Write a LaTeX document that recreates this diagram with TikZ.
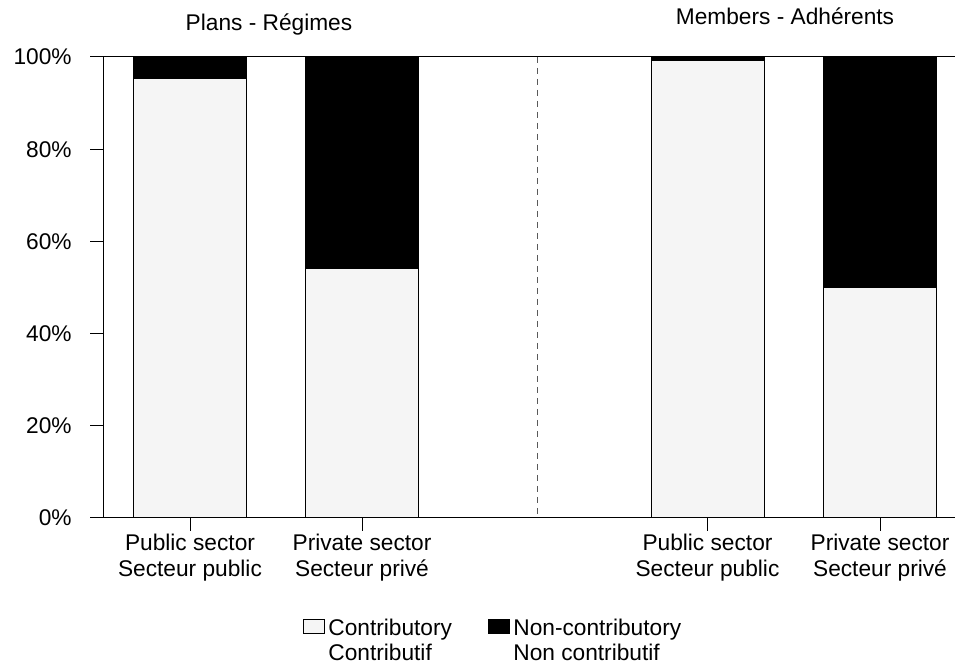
\documentclass[tikz,border=0pt]{standalone}
\usepackage{fontspec}
\setmainfont{Liberation Sans}
\usepackage{xcolor}
\usepackage{tikz}
\usetikzlibrary{positioning,calc}

\definecolor{barlight}{RGB}{245,245,245}
\tikzset{
  lbl/.style={font=\fontsize{11.35}{13}\selectfont, inner sep=0pt},
  keylbl/.style={font=\fontsize{11.35}{12.2}\selectfont, inner sep=0pt},
  axisline/.style={black, line width=0.5pt},
  contrib/.style={fill=barlight, draw=black, line width=0.5pt},
  noncontrib/.style={fill=black, draw=black, line width=0.5pt},
  keybox/.style={draw=black, line width=0.5pt, minimum width=10.5pt, minimum height=7pt, inner sep=0pt}
}

\begin{document}
\begin{tikzpicture}[x=0.5pt,y=-0.5pt]
  \useasboundingbox (0,0) rectangle (955,663);

  % Titles
  \node[lbl, anchor=base] (titleplans) at (269,31) {Plans - Régimes};
  \node[lbl, anchor=base] (titlemembers) at (785,25) {Members - Adhérents};

  % Frame and y axis
  \draw[axisline] (90,57) -- (955,57);
  \draw[axisline] (90,518) -- (955,518);
  \draw[axisline] (103,57) -- (103,518);
  \foreach \p in {0,20,...,100} {
    \draw[axisline] (90,{518-4.61*\p}) -- (103,{518-4.61*\p});
    \node[lbl, anchor=east] (ytick\p) at (72,{518-4.61*\p}) {\p\%};
  }

  % Bars (white share of 100%)
  \foreach \cx/\v/\n in {190/95.4/a, 362/54.2/b, 707.5/99.3/c, 880/49.9/d} {
    \draw[noncontrib] (\cx-56.5,57) rectangle (\cx+56.5,518);
    \draw[contrib] (\cx-56.5,518) rectangle (\cx+56.5,{518-4.61*\v});
    \draw[axisline] (\cx,518) -- (\cx,531);
  }

  % Separator
  \draw[black!65, line width=0.5pt, dash pattern=on 3pt off 2.5pt] (537.7,57) -- (537.7,518);

  % Category labels
  \node[lbl, align=center, anchor=north] (pubplans) at (190,534) {Public sector\\Secteur public};
  \node[lbl, align=center, anchor=north] (privplans) at (362,534) {Private sector\\Secteur privé};
  \node[lbl, align=center, anchor=north] (pubmembers) at (707.5,534) {Public sector\\Secteur public};
  \node[lbl, align=center, anchor=north] (privmembers) at (880,534) {Private sector\\Secteur privé};

  % Legend
  \node[keybox, fill=barlight] (keycontrib) at (313.5,627) {};
  \node[keylbl, align=left, anchor=north west] (txtcontrib) at (328,619) {Contributory\\Contributif};
  \node[keybox, fill=black] (keynon) at (498.5,627) {};
  \node[keylbl, align=left, anchor=north west] (txtnon) at (513,619) {Non-contributory\\Non contributif};
\end{tikzpicture}
\end{document}
